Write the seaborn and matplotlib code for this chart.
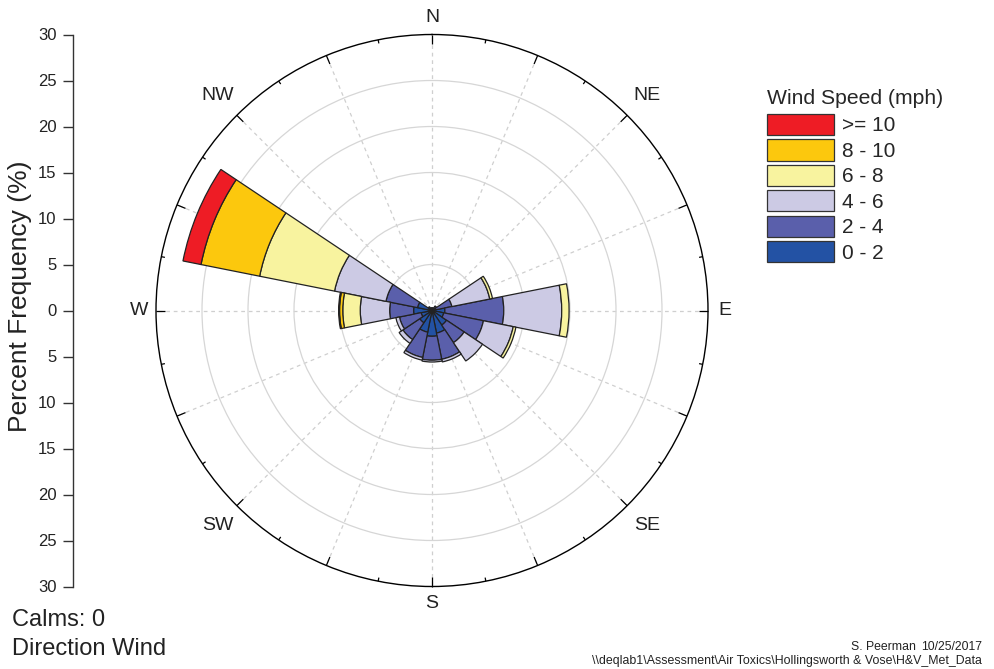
import seaborn as sns
import matplotlib
matplotlib.use('Agg')
import matplotlib.pyplot as plt
import numpy as np
from matplotlib.patches import Patch


sns.set_theme(style='white')
plt.rcParams['font.family'] = ['Liberation Sans', 'DejaVu Sans']

directions = ['N', 'NNE', 'NE', 'ENE', 'E', 'ESE', 'SE', 'SSE',
              'S', 'SSW', 'SW', 'WSW', 'W', 'WNW', 'NW', 'NNW']

# percent frequency per direction and speed bin (mph)
spd_0_2 = [0.2, 0.2, 0.3, 0.4, 1.4, 1.3, 1.9, 2.5, 2.8, 2.4, 1.6, 1.2, 2.0, 1.6, 0.3, 0.2]
spd_2_4 = [0.1, 0.1, 0.3, 1.8, 6.4, 4.4, 2.3, 2.9, 2.6, 2.8, 2.2, 2.4, 2.6, 3.5, 0.2, 0.1]
spd_4_6 = [0.0, 0.0, 0.0, 4.2, 6.3, 3.3, 2.4, 0.3, 0.2, 0.3, 0.5, 0.4, 3.2, 5.7, 0.0, 0.0]
spd_6_8 = [0.0, 0.0, 0.0, 0.3, 0.8, 0.3, 0.0, 0.0, 0.0, 0.0, 0.0, 0.0, 1.9, 8.3, 0.0, 0.0]
spd_8_10 = [0.0, 0.0, 0.0, 0.0, 0.0, 0.0, 0.0, 0.0, 0.0, 0.0, 0.0, 0.0, 0.35, 6.5, 0.0, 0.0]
spd_10 = [0.0, 0.0, 0.0, 0.0, 0.0, 0.0, 0.0, 0.0, 0.0, 0.0, 0.0, 0.0, 0.1, 2.0, 0.0, 0.0]

bins = ['0 - 2', '2 - 4', '4 - 6', '6 - 8', '8 - 10', '>= 10']
series = [spd_0_2, spd_2_4, spd_4_6, spd_6_8, spd_8_10, spd_10]
colors = sns.color_palette(['#2352a4', '#5a5fab', '#cccae4', '#f8f39f', '#fcc80d', '#ee1c25'])

compass = ['N', 'NE', 'E', 'SE', 'S', 'SW', 'W', 'NW']
rmax = 30

fig = plt.figure(figsize=(9.95, 6.69), dpi=100)
W, H = 995, 669
cx, cy, rad = 432, 310.5, 276

ax = fig.add_axes([(cx - rad) / W, (H - cy - rad) / H, 2 * rad / W, 2 * rad / H], projection='polar')
ax.set_theta_zero_location('N')
ax.set_theta_direction(-1)
ax.set_ylim(0, rmax)
ax.set_axisbelow(True)

theta = np.deg2rad(np.arange(len(directions)) * 360 / len(directions))
width = np.deg2rad(360 / len(directions))

bottom = np.zeros(len(directions))
for vals, col in zip(series, colors):
    vals = np.array(vals)
    m = vals > 0
    ax.bar(theta[m], vals[m], width=width, bottom=bottom[m], color=col,
           edgecolor='#222222', linewidth=0.9, align='center', zorder=3)
    bottom += vals

ax.set_yticks([5, 10, 15, 20, 25])
ax.set_yticklabels([])
ax.set_xticks(theta)
ax.set_xticklabels([])
ax.yaxis.grid(True, color='#d6d6d6', linestyle='-', linewidth=0.9)
ax.xaxis.grid(True, color='#cfcfcf', linestyle=(0, (3, 3)), linewidth=0.9)
ax.spines['polar'].set_color('black')
ax.spines['polar'].set_linewidth(1.0)
ax.tick_params(axis='both', length=0, pad=0)

# ticks on outer ring
for a in np.arange(0, 360, 22.5):
    t = np.deg2rad(a)
    ax.plot([t, t], [rmax - 1.0, rmax], color='black', lw=0.9, zorder=4, clip_on=False,
            solid_capstyle='butt')
    t2 = np.deg2rad(a + 11.25)
    ax.plot([t2, t2], [rmax - 0.4, rmax], color='black', lw=0.9, zorder=4, clip_on=False,
            solid_capstyle='butt')

for i, lab in enumerate(compass):
    t = np.deg2rad(i * 45)
    r = 31.8 if i % 2 == 0 else 33.0
    ax.text(t, r, lab, ha='center', va='center', fontsize=14, color='#222222', clip_on=False)

# vertical frequency axis on the left
ay = fig.add_axes([73 / W, (H - cy - rad) / H, 0.001, 2 * rad / H])
ay.set_ylim(-rmax, rmax)
ticks = np.arange(-rmax, rmax + 1, 5)
ay.set_yticks(ticks)
ay.set_yticklabels([str(abs(int(v))) for v in ticks], fontsize=12, color='#222222')
ay.set_xticks([])
for s in ['top', 'right', 'bottom']:
    ay.spines[s].set_visible(False)
ay.spines['left'].set_color('#333333')
ay.spines['left'].set_linewidth(1.0)
ay.tick_params(axis='y', left=True, length=7, width=1.0, color='#333333', pad=5)
ay.patch.set_alpha(0)

fig.text(20 / W, 1 - 296 / H, 'Percent Frequency (%)', rotation=90, ha='center', va='center',
         fontsize=19, color='#222222')

handles = [Patch(facecolor=c, edgecolor='#333333', linewidth=0.9, label=b)
           for b, c in zip(bins[::-1], colors[::-1])]
leg = fig.legend(handles=handles, loc='upper left', bbox_to_anchor=(763 / W, 1 - 85 / H),
                 frameon=False, title='Wind Speed (mph)', fontsize=15, title_fontsize=15.2,
                 handlelength=3.2, handleheight=1.2, labelspacing=0.18, handletextpad=0.4,
                 borderaxespad=0, borderpad=0.2)
leg._legend_box.align = 'left'
leg._legend_box.sep = 4

fig.text(12 / W, 1 - 620 / H, 'Calms: 0', ha='left', va='center', fontsize=17, color='#222222')
fig.text(12 / W, 1 - 649 / H, 'Direction Wind', ha='left', va='center', fontsize=17, color='#222222')
fig.text(883 / W, 1 - 647 / H, 'S. Peerman', ha='center', va='center', fontsize=8.8, color='#222222')
fig.text(982 / W, 1 - 647 / H, '10/25/2017', ha='right', va='center', fontsize=8.8, color='#222222')
fig.text(982 / W, 1 - 661 / H, r'\\deqlab1\Assessment\Air Toxics\Hollingsworth & Vose\H&V_Met_Data',
         ha='right', va='center', fontsize=8.9, color='#222222')

fig.savefig('out.png', dpi=100)
